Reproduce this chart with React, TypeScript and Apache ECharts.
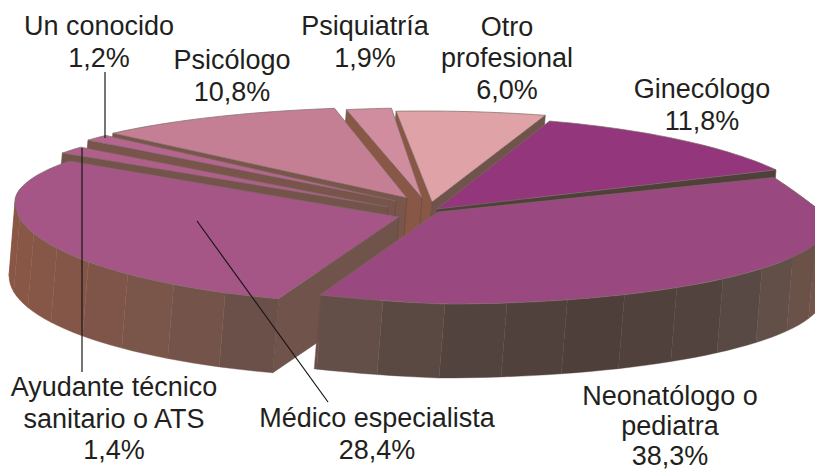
import React, { useEffect, useRef } from "react";
import * as echarts from "echarts";

// clockwise from the start angle
const categories = ["Otro\nprofesional", "Ginecólogo", "Neonatólogo o\npediatra", "Médico especialista", "Ayudante técnico\nsanitario o ATS", "Un conocido", "Psicólogo", "Psiquiatría"];
const values = [6.0, 11.8, 38.3, 28.4, 1.4, 1.2, 10.8, 1.9];
const topColors = ["#DFA2A6", "#93367C", "#9A4880", "#A55686", "#AF5F8A", "#B4668E", "#C47F94", "#D08DA0"];

// layout of each slice: apex, rim ellipse centre, radii, back-rim narrowing and curve
const apex = [[432, 202], [437, 209], [438, 212], [399, 217], [388, 207], [396, 201], [407, 198], [422, 198]];
const rimCentre = [[424, 203], [428, 223], [445, 218], [400, 202], [393, 194], [400, 187], [407, 181], [418, 200]];
const rimX = [400, 401, 385, 385, 385, 385, 385, 380];
const rimFront = [92, 107, 86, 102, 80, 80, 74, 92];
const rimBack = [92, 107, 150, 80, 80, 80, 74, 92];
const rimCurve = [1, 1, 1.87, 1, 1, 1, 1, 1];
const rimNarrow = [0, 0, 0.03, 0, 0, 0, 0, 0];
const rimLean = [0, 0, 15, 0, 0, 0, 0, 0];
const paintRank = [0, 1, 7, 6, 5, 4, 3, 2];
const labelPos = [[507, 58], [702, 89], [670, 396], [377, 418], [114, 387], [99, 26], [232, 60], [365, 26]];
const labelGap = [31.5, 31.5, 30.2, 31.5, 31.5, 31.5, 31.5, 31.5];
const leaders = [[105, 72, 105, 138], [82, 148, 82, 372], [197, 221, 328, 402]];

const START = -4;
const SHIFT_X = -6;
const SHIFT_Y = 74;
const FONT = '27px "Liberation Sans"';
const wallStops: [number, number[]][] = [
  [60, [0x80, 0x5a, 0x50]], [90, [0x7d, 0x5a, 0x50]], [108, [0x70, 0x53, 0x4a]], [123, [0x60, 0x4e, 0x48]],
  [138, [0x52, 0x43, 0x3f]], [156, [0x4e, 0x3f, 0x3b]], [178, [0x54, 0x44, 0x3f]], [194, [0x63, 0x4e, 0x48]],
  [215, [0x77, 0x54, 0x4a]], [235, [0x83, 0x56, 0x48]], [262, [0x8a, 0x57, 0x45]], [330, [0x8a, 0x57, 0x45]],
];

const rad = (d: number) => (d * Math.PI) / 180;
const norm = (d: number) => ((d % 360) + 360) % 360;
function shade(deg: number) {
  const d = Math.min(330, Math.max(60, norm(deg)));
  for (let i = 1; i < wallStops.length; i++) {
    if (d <= wallStops[i][0]) {
      const [a, ca] = wallStops[i - 1];
      const [b, cb] = wallStops[i];
      const t = (d - a) / (b - a);
      return `rgb(${ca.map((c, k) => Math.round(c + (cb[k] - c) * t)).join(",")})`;
    }
  }
  return "#8a5745";
}

export default function App() {
  const ref = useRef<HTMLDivElement>(null);
  useEffect(() => {
    document.body.style.margin = "0";
    document.body.style.overflow = "hidden";
    const chart = echarts.init(ref.current!, null, { renderer: "svg" });
    const total = values.reduce((a, b) => a + b, 0);
    const renderItem = (params: any, api: any) => {
      const i = params.dataIndex;
      const v = api.value(0);
      let before = 0;
      for (let k = 0; k < i; k++) before += values[k];
      const a0 = START + (before / total) * 360;
      const a1 = a0 + (v / total) * 360;
      const rim = (d: number) => {
        const u = Math.sin(rad(d));
        const w = -Math.cos(rad(d));
        const dy = w > 0 ? rimFront[i] * w : -rimBack[i] * Math.pow(-w, rimCurve[i]);
        return [
          rimCentre[i][0] + rimX[i] * u * (1 + rimNarrow[i] * w),
          rimCentre[i][1] + dy + (u < 0 ? rimLean[i] * u : 0),
        ];
      };
      const down = (p: number[]) => [p[0] + SHIFT_X, p[1] + SHIFT_Y];
      const base = paintRank[i] * 1000;
      let z = base;
      const children: any[] = [];
      const A = apex[i];
      const quad = (pts: number[][], fill: string, stroke = fill, lw = 0.5) => {
        children.push({ type: "polygon", z2: z++, shape: { points: pts }, style: { fill, stroke, lineWidth: lw } });
      };
      // cut faces that look towards the viewer
      if (Math.sin(rad(a0)) < 0) {
        const p = rim(a0);
        quad([A, p, down(p), down(A)], shade(a0 - 90), "#5d4a44", 0.6);
      }
      if (Math.sin(rad(a1)) > 0) {
        const p = rim(a1);
        quad([A, p, down(p), down(A)], shade(a1 + 90), "#5d4a44", 0.6);
      }
      // outer wall facets, front half only
      const STEP = 9;
      const first = Math.ceil(a0 / STEP) * STEP;
      const stops = [a0];
      for (let d = first; d < a1; d += STEP) if (d > a0) stops.push(d);
      stops.push(a1);
      for (let k = 0; k + 1 < stops.length; k++) {
        const mid = norm((stops[k] + stops[k + 1]) / 2);
        if (mid < 65 || mid > 275) continue;
        const pts: number[][] = [];
        for (let n = 0; n <= 4; n++) pts.push(rim(stops[k] + ((stops[k + 1] - stops[k]) * n) / 4));
        const low = pts.map(down).reverse();
        const col = shade(mid);
        quad([...pts, ...low], col, col, 0.4);
        const e = pts[pts.length - 1];
        children.push({
          type: "line", z2: z++,
          shape: { x1: e[0], y1: e[1], x2: e[0] + SHIFT_X, y2: e[1] + SHIFT_Y },
          style: { stroke: "rgba(160,95,120,0.16)", lineWidth: 0.7 },
        });
      }
      // top face
      const top: number[][] = [A];
      const steps = Math.max(4, Math.ceil((a1 - a0) / 1.5));
      for (let n = 0; n <= steps; n++) top.push(rim(a0 + ((a1 - a0) * n) / steps));
      quad(top, topColors[i], "#7d6a66", 0.7);

      // labels, above every face
      const lines = [...categories[i].split("\n"), v.toFixed(1).replace(".", ",") + "%"];
      lines.forEach((t: string, n: number) => {
        children.push({
          type: "text", z2: 20000 + n,
          style: {
            text: t, x: labelPos[i][0], y: labelPos[i][1] - (i === 0 ? labelGap[i] : 0) + n * labelGap[i],
            fill: "#231f20", font: FONT, textAlign: "center", textVerticalAlign: "middle", verticalAlign: "middle",
          },
        });
      });
      return { type: "group", children };
    };
    const leaderItem = (params: any) => {
      const l = leaders[params.dataIndex];
      return {
        type: "line", z2: 15000,
        shape: { x1: l[0], y1: l[1], x2: l[2], y2: l[3] },
        style: { stroke: "#1a1718", lineWidth: 1.2 },
      };
    };
    chart.setOption({
      animation: false,
      backgroundColor: "#fff",
      series: [
        { type: "custom", coordinateSystem: "none", silent: true, clip: false, z: 2, data: values.map((v) => [v]), renderItem },
        { type: "custom", coordinateSystem: "none", silent: true, clip: false, z: 3, data: leaders.map((l) => [l[0]]), renderItem: leaderItem },
      ],
    });
    return () => chart.dispose();
  }, []);
  return <div ref={ref} style={{ width: 815, height: 470 }} />;
}
